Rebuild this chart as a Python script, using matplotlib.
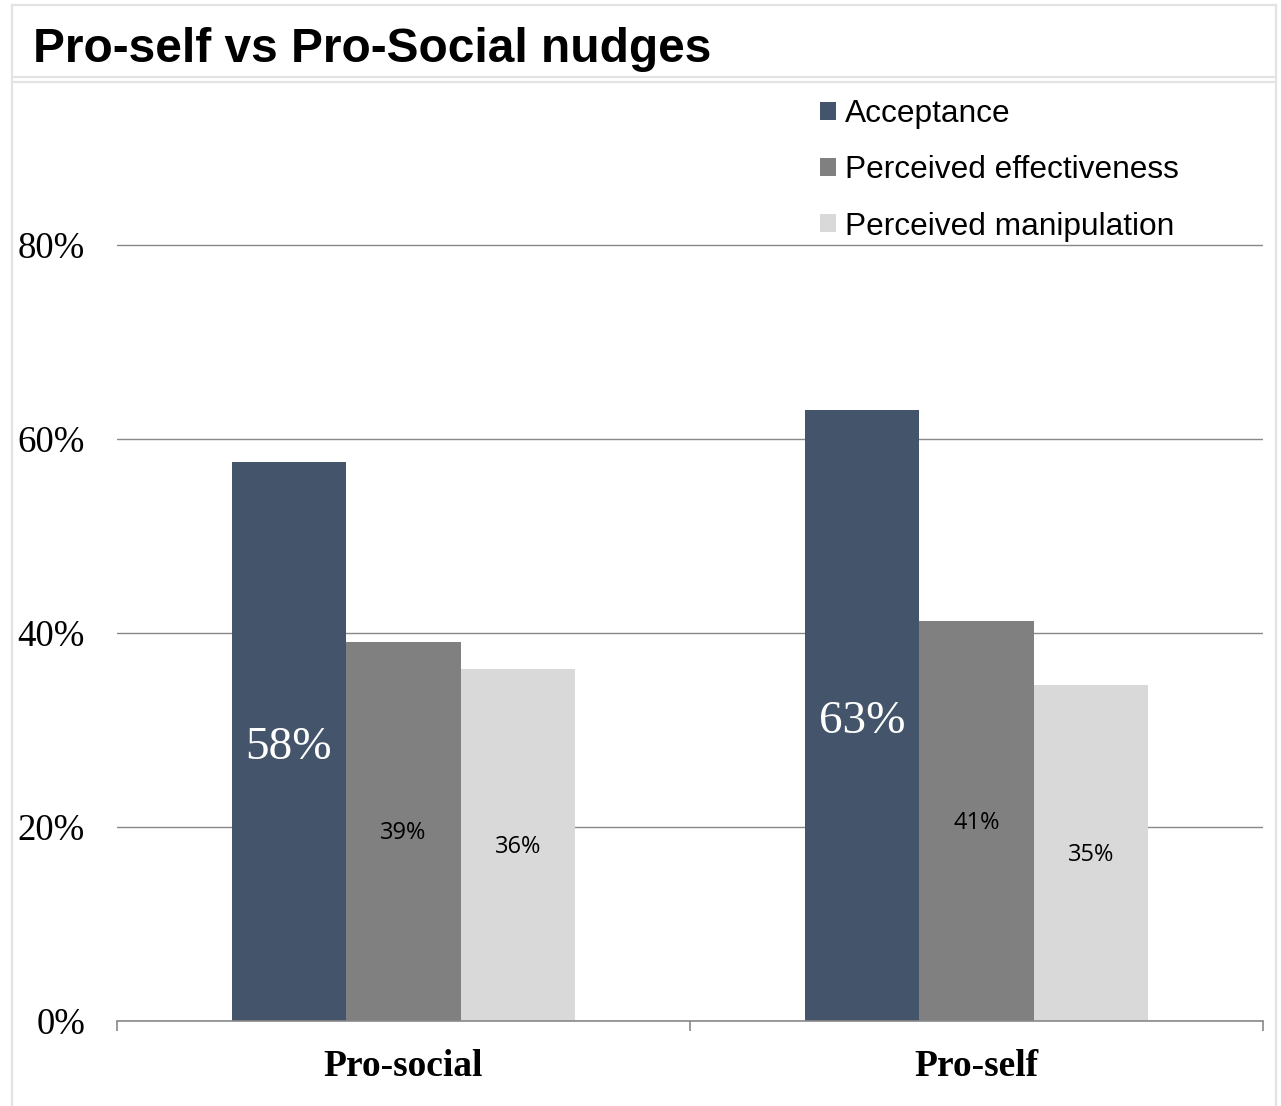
import matplotlib
matplotlib.use("Agg")
import matplotlib.pyplot as plt
from matplotlib.patches import Patch
from matplotlib.lines import Line2D
import numpy as np

categories = ["Pro-social", "Pro-self"]
series_names = ["Acceptance", "Perceived effectiveness", "Perceived manipulation"]
acceptance = [0.576, 0.630]
effectiveness = [0.391, 0.412]
manipulation = [0.363, 0.346]
y_ticks = [0.0, 0.2, 0.4, 0.6, 0.8]
y_tick_labels = ["0%", "20%", "40%", "60%", "80%"]

colors = ["#44546A", "#808080", "#D9D9D9"]
W, H = 1281, 1106
fig = plt.figure(figsize=(W / 100, H / 100), dpi=100)

# panel frame and title strip
frame_kw = dict(color="#E3E3E3", linewidth=1.6, transform=fig.transFigure)
def fx(px):
    return px / W
def fy(py):
    return 1 - py / H
fig.add_artist(Line2D([fx(12), fx(12)], [fy(5), 0], **frame_kw))
fig.add_artist(Line2D([fx(1276), fx(1276)], [fy(5), 0], **frame_kw))
fig.add_artist(Line2D([fx(12), fx(1276)], [fy(5), fy(5)], **frame_kw))
fig.add_artist(Line2D([fx(12), fx(1276)], [fy(77), fy(77)], **frame_kw))
fig.add_artist(Line2D([fx(12), fx(1276)], [fy(82), fy(82)], **frame_kw))

fig.text(fx(33), fy(62), "Pro-self vs Pro-Social nudges", fontsize=34.5,
         fontweight="bold", family="Liberation Sans", va="baseline", ha="left")

ax = fig.add_axes([fx(117), fy(1021), fx(1263) - fx(117), fy(85) - fy(1021)])
x = np.arange(len(categories))
bw = 0.2
series = [acceptance, effectiveness, manipulation]
bars = []
for i, (vals, c, name) in enumerate(zip(series, colors, series_names)):
    b = ax.bar(x + (i - 1) * bw, vals, width=bw, color=c, label=name, zorder=2)
    bars.append(b)

for rect, v in zip(bars[0], acceptance):
    ax.annotate(f"{v:.0%}", (rect.get_x() + rect.get_width() / 2, v / 2),
                xytext=(0, -4.5), textcoords="offset points",
                ha="center", va="center", color="white", fontsize=34,
                family="Liberation Serif", zorder=3)
for bset, vals in zip(bars[1:], series[1:]):
    for rect, v in zip(bset, vals):
        ax.annotate(f"{v:.0%}", (rect.get_x() + rect.get_width() / 2, v / 2),
                    xytext=(0, -1.5), textcoords="offset points",
                    ha="center", va="center", color="black", fontsize=17,
                    family="Open Sans", zorder=3)

ax.set_xlim(-0.5, 1.5)
ax.set_ylim(0, 0.965)
ax.set_yticks(y_ticks)
ax.set_yticklabels(y_tick_labels, family="Liberation Serif", fontsize=26.5)
ax.tick_params(axis="y", length=0, pad=23)
ax.set_xticks(x)
ax.set_xticklabels(categories, family="Liberation Serif", fontweight="bold", fontsize=27)
ax.tick_params(axis="x", which="major", length=0, pad=20)
ax.set_xticks([-0.5, 0.5, 1.5], minor=True)
ax.tick_params(axis="x", which="minor", length=7.5, color="#898989", width=1.2, direction="out")

ax.grid(axis="y", color="#898989", linewidth=1)
ax.set_axisbelow(True)
for s in ["top", "right", "left"]:
    ax.spines[s].set_visible(False)
ax.spines["bottom"].set_color("#898989")
ax.spines["bottom"].set_linewidth(1.2)

handles = [Patch(facecolor=c, edgecolor="none") for c in colors]
ax.legend(handles, series_names, loc="upper left", bbox_to_anchor=(fx(820), fy(99)),
          bbox_transform=fig.transFigure, frameon=False, prop={"family": "Liberation Sans", "size": 22.8},
          handlelength=0.5, handleheight=0.5, handletextpad=0.3, labelspacing=0.83,
          borderpad=0, borderaxespad=0)

fig.savefig("out.png", dpi=100, facecolor="white")
